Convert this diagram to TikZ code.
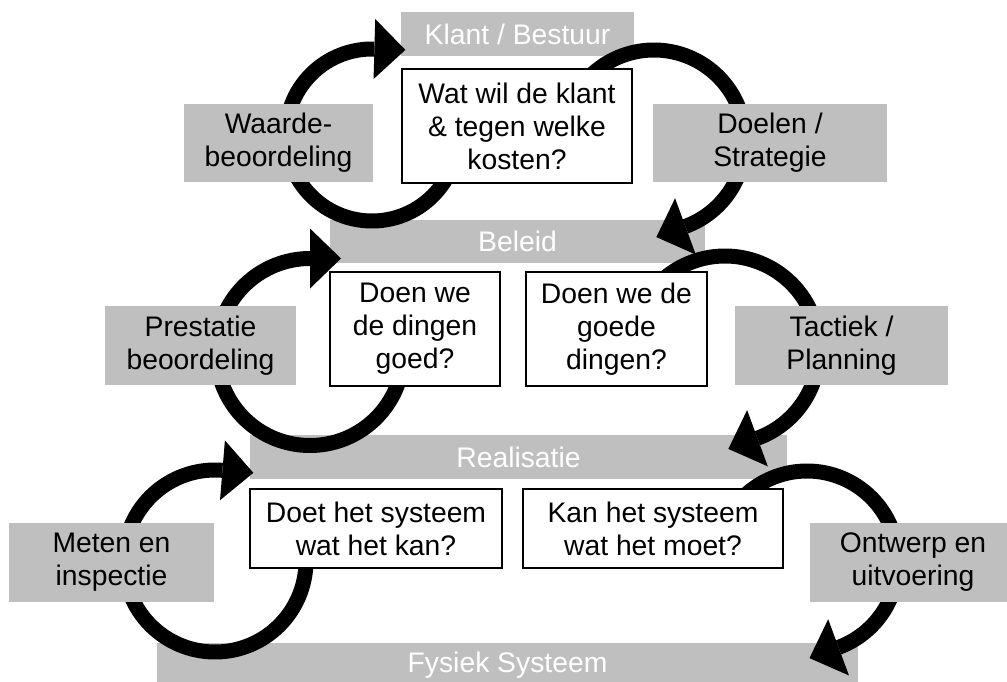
\documentclass[tikz,border=0pt]{standalone}
\usepackage{fontspec}
\setmainfont{Liberation Sans}
\definecolor{barg}{RGB}{191,191,191}
\tikzset{
  txt/.style={font=\fontsize{28.3}{33}\selectfont, align=center, inner sep=0pt},
  bar/.style={txt, fill=barg, text=white},
  lab/.style={txt, fill=barg, text=black},
  qbox/.style={txt, fill=white, draw=black, line width=1.1pt},
  arcline/.style={line width=15pt, black},
}
% #1 cx, #2 cy, #3 radius, #4 start angle, #5 end angle (screen angles, clockwise)
\newcommand{\loopArrow}[5]{%
  \draw[arcline] plot[domain=#4:#5, samples=80, smooth] ({#1+#3*cos(\x)},{#2+#3*sin(\x)});
  \fill[black] ({#1+(#3-30)*cos(#5)},{#2+(#3-30)*sin(#5)})
     -- ({#1+(#3+30)*cos(#5)},{#2+(#3+30)*sin(#5)})
     -- ({#1+#3*cos(#5)-31*sin(#5)},{#2+#3*sin(#5)+31*cos(#5)}) -- cycle;
}
\begin{document}
\begin{tikzpicture}[x=1pt,y=-1pt]
\useasboundingbox (0,0) rectangle (1007,682);
\clip (0,0) rectangle (1007,682);
\fill[white] (0,0) rectangle (1007,682);

% level bars
\node[bar, minimum width=233pt, minimum height=44pt] (klant) at (517.5,34) {Klant / Bestuur};
\node[bar, minimum width=375pt, minimum height=43pt] (beleid) at (517.5,241.5) {Beleid};
\node[bar, minimum width=537pt, minimum height=44pt] (realisatie) at (518.5,457) {Realisatie};
\node[bar, minimum width=701pt, minimum height=44pt] (fysiek) at (507.5,665) {Fysiek Systeem};

% circular arrows
\loopArrow{372}{135}{86}{0}{271.6}
\loopArrow{310}{352}{93.5}{0}{270}
\loopArrow{215}{561}{91}{0}{274.7}
\loopArrow{654}{141}{91}{180}{429.8}
\loopArrow{725}{350}{94}{180}{429.8}
\loopArrow{807}{562}{91}{180}{429.7}

% question boxes
\node[qbox, minimum width=230pt, minimum height=114pt] (q1) at (517,126) {Wat wil de klant\\\& tegen welke\\kosten?};
\node[qbox, minimum width=170pt, minimum height=114pt] (q2) at (415,329) {Doen we\\de dingen\\goed?};
\node[qbox, minimum width=181pt, minimum height=114pt] (q3) at (616.5,329) {Doen we de\\goede\\dingen?};
\node[qbox, minimum width=252pt, minimum height=79pt] (q4) at (376,528.5) {Doet het systeem\\wat het kan?};
\node[qbox, minimum width=260pt, minimum height=79pt] (q5) at (653,528.5) {Kan het systeem\\wat het moet?};

% process labels
\node[lab, minimum width=189pt, minimum height=78pt] (waarde) at (278.5,143) {Waarde-\\beoordeling};
\node[lab, minimum width=234pt, minimum height=78pt] (doelen) at (770,143) {Doelen /\\Strategie};
\node[lab, minimum width=191pt, minimum height=79pt] (prestatie) at (200.5,345.5) {Prestatie\\beoordeling};
\node[lab, minimum width=213pt, minimum height=79pt] (tactiek) at (841.5,345.5) {Tactiek /\\Planning};
\node[lab, minimum width=205pt, minimum height=79pt] (meten) at (111.5,562.5) {Meten en\\inspectie};
\node[lab, minimum width=206pt, minimum height=79pt] (ontwerp) at (913,562.5) {Ontwerp en\\uitvoering};
\end{tikzpicture}
\end{document}
